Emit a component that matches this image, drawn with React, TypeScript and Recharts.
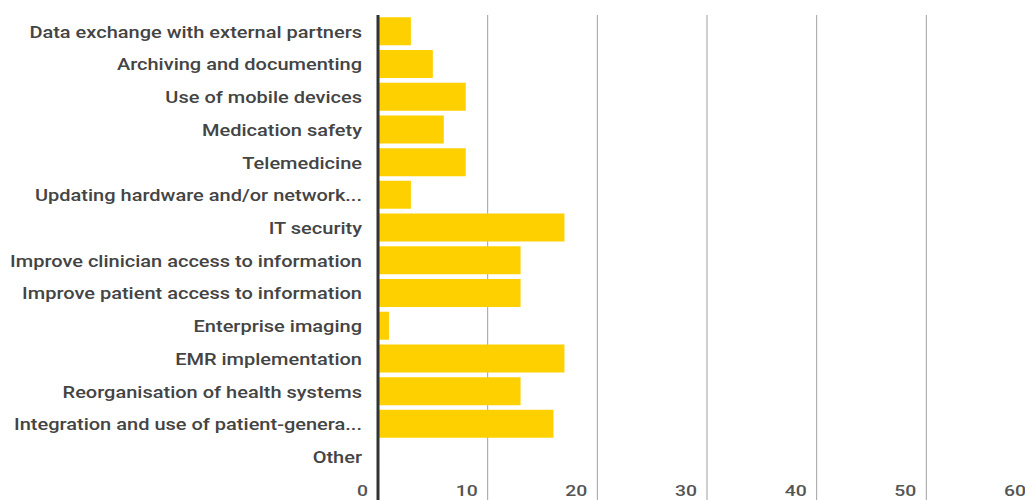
import { BarChart, Bar, XAxis, YAxis, CartesianGrid } from "recharts";

const categories = [
  "Data exchange with external partners",
  "Archiving and documenting",
  "Use of mobile devices",
  "Medication safety",
  "Telemedicine",
  "Updating hardware and/or network...",
  "IT security",
  "Improve clinician access to information",
  "Improve patient access to information",
  "Enterprise imaging",
  "EMR implementation",
  "Reorganisation of health systems",
  "Integration and use of patient-genera...",
  "Other",
];

const responses = [3, 5, 8, 6, 8, 3, 17, 13, 13, 1, 17, 13, 16, 0];

const xTicks = [0, 10, 20, 30, 40, 50, 60];

const data = categories.map((name, i) => ({ name, value: responses[i] }));

const FONT = "Roboto, 'Noto Sans', sans-serif";
// the reference text is a little wider than plain Roboto
const STRETCH = 1.25;

function XTick(props: any) {
  const { x, y, payload } = props;
  const isZero = payload.value === 0;
  return (
    <g>
      <line
        x1={x}
        x2={x}
        y1={y}
        y2={y + 30}
        stroke={isZero ? "#333" : "#a0a0a0"}
        strokeWidth={isZero ? 3 : 1}
      />
      <text
        transform={`translate(${x - 10},${y + 23}) scale(${STRETCH},1)`}
        textAnchor="end"
        fill="#555"
        fontSize={15.5}
        fontWeight={500}
        fontFamily={FONT}
      >
        {payload.value}
      </text>
    </g>
  );
}

function YTick(props: any) {
  const { x, y, payload } = props;
  return (
    <text
      transform={`translate(${x},${y}) scale(${STRETCH},1)`}
      dy="0.4em"
      textAnchor="end"
      fill="#444"
      fontSize={16}
      fontWeight={500}
      fontFamily={FONT}
    >
      {payload.value}
    </text>
  );
}

export default function App() {
  return (
    <div
      style={{
        position: "fixed",
        left: 0,
        top: 0,
        width: 1025,
        height: 500,
        overflow: "hidden",
        background: "#fff",
      }}
    >
      <BarChart
        width={1050}
        height={500}
        data={data}
        layout="vertical"
        margin={{ top: 15, right: 14, left: 0, bottom: 0 }}
        barCategoryGap="7%"
      >
        <CartesianGrid horizontal={false} stroke="#a0a0a0" />
        <XAxis
          type="number"
          domain={[0, 60]}
          ticks={xTicks}
          axisLine={false}
          tickLine={false}
          tickSize={0}
          tickMargin={0}
          height={27}
          tick={<XTick />}
          interval={0}
        />
        <YAxis
          type="category"
          dataKey="name"
          width={378}
          axisLine={{ stroke: "#333", strokeWidth: 3 }}
          tickLine={false}
          tickSize={0}
          tickMargin={16}
          interval={0}
          tick={<YTick />}
        />
        <Bar dataKey="value" fill="#FFD000" isAnimationActive={false} />
      </BarChart>
    </div>
  );
}
